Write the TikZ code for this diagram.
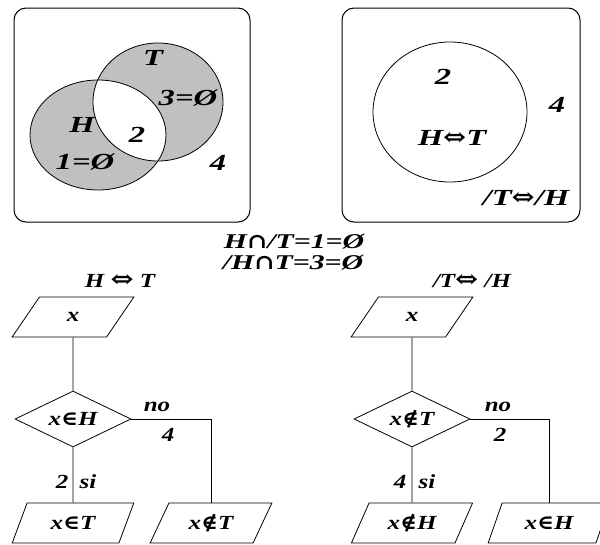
\documentclass[tikz,border=0pt]{standalone}
\usepackage{fontspec}
\setmainfont{Liberation Serif}[FakeStretch=1.25]
\newfontfamily\widef{Liberation Serif}[FakeStretch=1.42]
\newfontfamily\symf{DejaVu Serif}[FakeStretch=1.15]
\usetikzlibrary{shapes.geometric}
\newcommand\sy[1]{{\symf\bfseries\upshape #1}}
\newcommand\arr{{\symf\upshape\fontsize{24}{24}\selectfont ⇔}}
\definecolor{vgray}{RGB}{192,192,192}
\begin{document}
\begin{tikzpicture}[x=1pt,y=-1pt,
  font=\bfseries\itshape\fontsize{20}{22}\selectfont,
  frame/.style={draw, line width=1pt, rounded corners=12pt},
  lab/.style={inner sep=0pt},
  mlab/.style={inner sep=0pt, font=\widef\bfseries\itshape\fontsize{21}{23}\selectfont},
  vlab/.style={inner sep=0pt, font=\widef\bfseries\itshape\fontsize{23}{25}\selectfont},
  para/.style={trapezium, trapezium left angle=61, trapezium right angle=119,
    draw, line width=0.8pt, minimum width=122pt, minimum height=40pt, inner sep=0pt,
    trapezium stretches=true},
  dia/.style={diamond, draw, line width=0.8pt, minimum width=116pt, minimum height=56pt,
    inner sep=0pt, aspect=2},
  conn/.style={draw, line width=0.8pt}]
\useasboundingbox (0,0) rectangle (600,544);
% Venn left
\node[frame, minimum width=236pt, minimum height=214pt] (boxL) at (132,115) {};
\fill[vgray, even odd rule] (98,135) ellipse [x radius=68, y radius=55]
  (158,102) ellipse [x radius=65, y radius=59];
\draw[line width=0.8pt] (98,135) ellipse [x radius=68, y radius=55];
\draw[line width=0.8pt] (158,102) ellipse [x radius=65, y radius=59];
\node[vlab] (lT) at (153,58) {T};
\node[vlab] (l3) at (188,98) {3=Ø};
\node[vlab] (lH) at (82,125) {H};
\node[vlab] (l2) at (137,135) {2};
\node[vlab] (l1) at (85,162) {1=Ø};
\node[vlab] (l4) at (218,163) {4};
% Venn right
\node[frame, minimum width=238pt, minimum height=214pt] (boxR) at (461,115) {};
\draw[line width=0.8pt] (450,112) ellipse [x radius=77, y radius=70];
\node[vlab] (r2) at (443,77) {2};
\node[vlab] (rHT) at (452,138) {H\arr T};
\node[vlab] (r4) at (557,105) {4};
\node[vlab] (rTH) at (526,198) {/T\arr/H};
% middle
\node[mlab] (m1) at (294,242) {H\sy{∩}/T=1=Ø};
\node[mlab] (m2) at (293,263) {/H\sy{∩}T=3=Ø};
% left flowchart
\node[lab] (t1) at (120,281) {H \arr{} T};
\node[para] (x1) at (73,317) {x};
\node[dia] (d1) at (73,419) {x\sy{∈}H};
\node[para] (a1) at (73,523) {x\sy{∈}T};
\node[para] (b1) at (211,523) {x\sy{∉}T};
\draw[conn] (x1.south) -- (d1.north);
\draw[conn] (d1.south) -- (a1.north);
\draw[conn] (d1.east) -| (b1.north);
\node[lab] (no1) at (157,407) {no};
\node[lab] (n41) at (168,435) {4};
\node[lab] (n21) at (62,482) {2};
\node[lab] (si1) at (88,482) {si};
% right flowchart
\node[lab] (t2) at (472,281) {/T\arr{} /H};
\node[para] (x2) at (412,317) {x};
\node[dia] (d2) at (412,419) {x\sy{∉}T};
\node[para] (a2) at (412,523) {x\sy{∉}H};
\node[para] (b2) at (549,523) {x\sy{∈}H};
\draw[conn] (x2.south) -- (d2.north);
\draw[conn] (d2.south) -- (a2.north);
\draw[conn] (d2.east) -| (b2.north);
\node[lab] (no2) at (498,407) {no};
\node[lab] (n22) at (500,435) {2};
\node[lab] (n42) at (400,482) {4};
\node[lab] (si2) at (427,482) {si};
\end{tikzpicture}
\end{document}
